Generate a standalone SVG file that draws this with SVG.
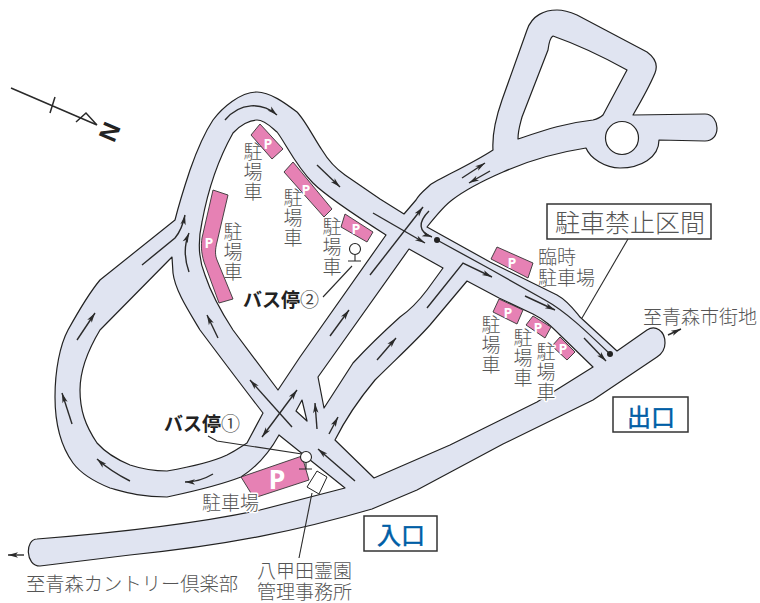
<svg xmlns="http://www.w3.org/2000/svg" width="760" height="603" viewBox="0 0 760 603">
<style>
text{font-family:"Noto Sans CJK JP","Noto Sans",sans-serif;fill:#555;font-size:19px;dominant-baseline:central;font-weight:300}
.v{writing-mode:vertical-rl;letter-spacing:1px}
.h{paint-order:stroke;stroke:#fff;stroke-width:3px;stroke-linejoin:round}
.b{font-weight:700;fill:#222}
.p{font-family:"Open Sans","Noto Sans",sans-serif;font-weight:700;fill:#fff;font-size:14px;text-anchor:middle}
.pk{fill:#e681b4;stroke:#333;stroke-width:.9}
.a{fill:none;stroke:#2a2a2a;stroke-width:1.4;marker-end:url(#ah)}
.l{fill:none;stroke:#2a2a2a;stroke-width:1.1}
.box{fill:#fff;stroke:#333;stroke-width:1.5}
.bl{fill:#005ea6;stroke:#005ea6;stroke-width:.5;font-size:24px;text-anchor:middle;font-weight:400}
</style>
<defs>
<marker id="ah" markerUnits="userSpaceOnUse" markerWidth="14" markerHeight="10" refX="10" refY="4" orient="auto-start-reverse" overflow="visible">
<path d="M0,1.3 L10,4 L0,6.7 L2.5,4 z" fill="#2a2a2a"/>
</marker>
</defs>
<g id="road">
<path fill="#e0e4f1" stroke="#222" stroke-width="1.2" stroke-linejoin="round" fill-rule="evenodd" d="M37,539 C100,534 190,525 260,510 L345,488 L279,435 C268,455 255,468 241,477 C215,487 190,492 167,497 C140,497 125,492 110,488 C95,482 82,475 73,463 C60,445 55,420 55,397 C55,370 60,345 68,330 C78,312 90,292 100,280 L175,220 C180,200 185,185 190,170 C197,150 205,132 213,120 C222,108 240,92 257,92 C270,92 285,103 297,112 C305,120 315,140 322,150 C328,160 335,168 345,175 L380,199 L404,214 L416,200 C420,193 425,190 430,185 C440,178 470,165 493,150 C492,135 495,120 502,100 L527,30 C532,15 545,10 557,10 C565,10 570,12 577,15 L647,52 C658,60 657,68 655,73 C650,85 640,103 633,115 L705,114 C713,114 717,122 717,128 C717,135 713,141 705,141 L659,140 C659,158 640,168 620,168 C605,168 590,158 586,148 C560,152 530,160 503,172 C480,182 465,190 452,200 C445,205 435,217 427,227 L490,262 L557,295 C568,301 575,311 580,317 L617,351 L647,330 C655,325 665,330 665,343 C665,350 660,355 657,357 L593,400 L503,444 L417,490 L372,509 C300,530 230,545 130,555 L40,566 C25,566 25,539 37,539 Z
M167,471 C190,467 210,463 227,455 C237,450 242,446 247,443 L263,413 C245,390 215,350 200,330 C188,310 175,290 173,273 L172,257 L100,330 C88,350 80,370 80,390 C80,410 85,425 97,443 C105,452 118,460 130,465 C145,470 155,471 167,471 Z
M257,120 C265,120 272,128 277,132 C285,142 295,165 313,183 C325,195 350,212 386,235 L300,357 L278,390 L233,330 C220,310 210,290 205,275 C198,258 198,240 202,222 C207,195 215,165 233,133 C240,125 250,120 257,120 Z
M409,249 L443,268 L427,290 C418,302 410,310 400,317 C380,335 365,350 353,363 L324,408 L318,377 Z
M302,400 L296,411 L307,421 Z
M467,281 L499,298 L533,314 C545,320 552,327 560,335 L593,367 L537,402 L450,445 L374,478 L335,440 C345,420 360,398 375,380 C395,360 415,342 430,325 Z
M553,36 C570,42 600,55 627,70 L603,115 C600,118 597,119 593,120 C565,123 545,130 518,139 C518,130 520,125 522,117 L548,50 C549,42 551,37 553,36 Z"/>
<circle cx="622" cy="138" r="16.5" fill="#fff" stroke="#222" stroke-width="1.2"/>
</g>
<g id="connectors">
<path class="a" d="M225,120 C240,102 262,102 277,115"/>
<path class="a" d="M317,165 L340,187"/>
<path class="a" d="M142,265 L175,238 C180,232 183,225 185,215"/>
<path class="a" d="M189,272 C184,258 184,245 189,233"/>
<path class="a" d="M77,340 L95,313"/>
<path class="a" d="M218,338 L207,315"/>
<path class="a" d="M330,336 L349,310"/>
<path class="a" d="M370,275 L423,207"/>
<path class="a" d="M373,213 L425,243"/>
<path class="a" d="M429,211 C418,222 418,232 432,237"/>
<path class="a" d="M427,308 L463,263 L492,277"/>
<path class="a" d="M525,296 L555,310"/>
<path class="a" d="M584,338 L606,361"/>
<path class="a" d="M377,360 L396,338"/>
<path class="a" d="M292,427 L250,380"/>
<path class="a" style="marker-start:url(#ah)" d="M262,437 L297,390"/>
<path class="a" d="M317,429 L315,403"/>
<path class="a" d="M329,434 L338,417"/>
<path class="a" d="M355,481 L318,449"/>
<path class="a" d="M213,474 C203,480 195,482 185,482"/>
<path class="a" d="M130,481 C118,475 107,468 97,459"/>
<path class="a" d="M72,424 L62,393"/>
<path class="a" d="M462,178 L485,163"/>
<path class="a" d="M490,171 L469,183"/>
<path class="a" d="M24,555 L8,555"/>
<path class="a" d="M668,335 L681,329"/>
<path class="l" style="stroke-width:1.3" d="M437,240 L490,269 L545,300 C565,311 585,330 610,354"/>
<circle cx="437" cy="240" r="3" fill="#222"/>
<circle cx="610" cy="354" r="3" fill="#222"/>
<path class="l" d="M628,239 L582,318"/>
<path class="l" d="M208,436 L217,441 L302,454"/>
<path class="l" d="M323,297 L352,266"/>
<path class="l" d="M312,493 L299,558"/>
</g>
<g id="compass">
<path class="l" style="stroke-width:1.5" d="M11,88 L97,125 M55,97 L50,113 M76,122 L86,113 L97,125"/>
<text transform="translate(110,132) rotate(113)" style="font-family:'Liberation Sans',sans-serif;font-size:25px;font-weight:700;text-anchor:middle;fill:#222">N</text>
</g>
<g id="parking">
<polygon class="pk" points="260,124 283,149 272,159 251,135"/>
<text class="p" x="268" y="143">P</text>
<polygon class="pk" points="293,162 332,209 324,217 284,172"/>
<text class="p" x="306" y="189">P</text>
<polygon class="pk" points="345,214 373,232 367,242 341,227"/>
<text class="p" x="356" y="228">P</text>
<path class="pk" d="M213,190 L228,195 L217,242 C215,250 215,255 217,260 L233,299 L219,303 L204,262 C201,252 201,245 202,238 Z"/>
<text class="p" x="209" y="242">P</text>
<polygon class="pk" points="241,477 302,456 309,480 254,498"/>
<text class="p" x="277" y="478" style="font-size:27px">P</text>
<polygon class="pk" points="497,247 533,263 528,278 491,259"/>
<text class="p" x="512" y="262">P</text>
<polygon class="pk" points="499,299 523,310 517,324 493,312"/>
<text class="p" x="508" y="312">P</text>
<polygon class="pk" points="533,316 551,327 545,338 526,325"/>
<text class="p" x="538" y="327">P</text>
<polygon class="pk" points="560,337 575,352 567,360 552,346"/>
<text class="p" x="563" y="348">P</text>
</g>
<g id="bus-stops">
<circle cx="306" cy="457" r="5.5" fill="#fff" stroke="#222" stroke-width="1.1"/>
<path class="l" d="M306,462 V469 M299,469 H312"/>
<circle cx="355" cy="249" r="5.5" fill="#fff" stroke="#222" stroke-width="1.1"/>
<path class="l" d="M355,255 V261 M348,261 H361"/>
</g>
<g id="office"><polygon points="317,471 327,477 319,494 307,487" fill="#fff" stroke="#222" stroke-width="1"/></g>
<g id="labels">
<text class="v" x="253" y="142">駐場車</text>
<text class="v" x="293" y="188">駐場車</text>
<text class="v" x="332" y="217">駐場車</text>
<text class="v" x="233" y="222">駐場車</text>
<text class="v" x="491" y="315">駐場車</text>
<text class="v" x="523" y="328">駐場車</text>
<text class="v h" x="546" y="342">駐場車</text>
<text><tspan x="538" y="255">臨時</tspan><tspan x="538" y="276">駐車場</tspan></text>
<text class="h" x="202" y="501">駐車場</text>
<text x="643" y="315">至青森市街地</text>
<text x="26" y="583" style="font-size:19.3px">至青森カントリー倶楽部</text>
<text><tspan x="257" y="569">八甲田霊園</tspan><tspan x="257" y="590">管理事務所</tspan></text>
<text class="b" x="164" y="422">バス停<tspan font-weight="400" fill="#444">①</tspan></text>
<text class="b" x="243" y="298">バス停<tspan font-weight="400" fill="#444">②</tspan></text>
<rect class="box" x="547" y="204" width="164" height="35"/>
<text x="555" y="221" style="font-size:25px">駐車禁止区間</text>
<rect class="box" x="613" y="397" width="75" height="35"/>
<text class="bl" x="651" y="415">出口</text>
<rect class="box" x="364" y="516" width="73" height="35"/>
<text class="bl" x="401" y="533">入口</text>
</g>
</svg>
